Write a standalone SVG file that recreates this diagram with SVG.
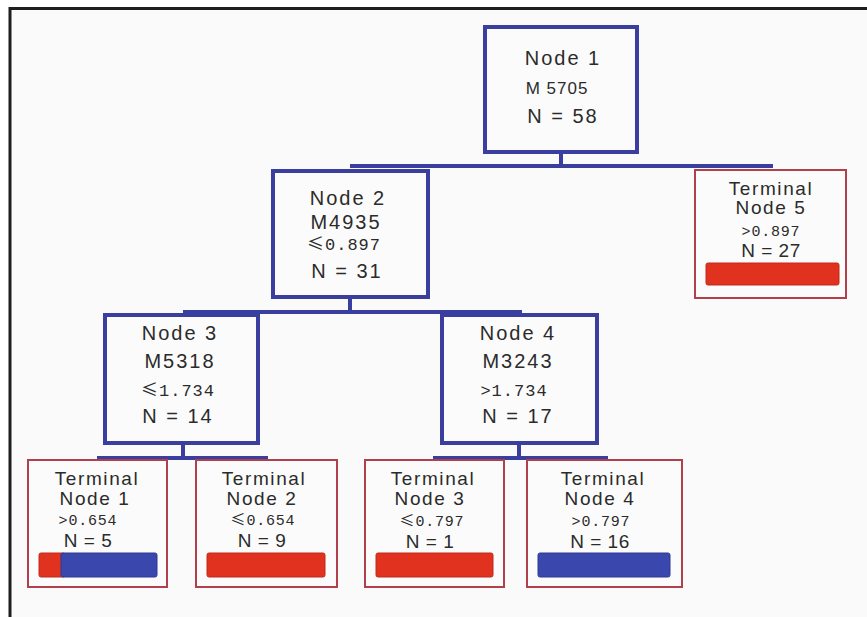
<svg xmlns="http://www.w3.org/2000/svg" width="867" height="617" viewBox="0 0 867 617">
<style>
.bg{fill:#fafafa}
.frame{stroke:#1e1e1e;stroke-width:3;fill:none}
.nb{fill:#fbfbfb;stroke:#3a3f9f;stroke-width:4}
.tb{fill:#fbfbfb;stroke:#b0404c;stroke-width:2}
.conn{stroke:#3a3f9f;stroke-width:4;fill:none}
.t{font-family:"Liberation Sans",Arial,sans-serif;font-size:20px;fill:#2b2b2b;text-anchor:middle;letter-spacing:2px}
.m{font-family:"Liberation Sans",Arial,sans-serif;font-size:17px;fill:#2b2b2b;text-anchor:middle;letter-spacing:1px}
.c{font-family:"Liberation Mono","Noto Sans CJK SC",monospace;font-size:17px;fill:#2b2b2b;text-anchor:middle;letter-spacing:1px}
.ct{font-family:"Liberation Mono","Noto Sans CJK SC",monospace;font-size:15px;fill:#2b2b2b;text-anchor:middle;letter-spacing:0.8px}
.le{font-family:"Noto Sans CJK SC","DejaVu Sans",sans-serif}
.tt{font-family:"Liberation Sans",Arial,sans-serif;font-size:19px;fill:#2b2b2b;text-anchor:middle;letter-spacing:1.6px}
.n{font-family:"Liberation Sans",Arial,sans-serif;font-size:19px;fill:#2b2b2b;text-anchor:middle;letter-spacing:0.5px}
.red{fill:#e0321f;stroke:#c02a1c;stroke-width:1}
.blue{fill:#3a47ad;stroke:#2e3a95;stroke-width:1}
</style>
<rect x="0" y="0" width="867" height="617" fill="#ffffff"/>
<rect class="bg" x="11" y="10" width="856" height="607"/>
<g id="frame">
<path class="frame" d="M10,617 V8.5 H867"/>
</g>
<g id="connectors">
<path class="conn" d="M561,153 V166 M350,166 H773 M350,297 V312 M183,312 H522 M183,443 V458 M97,458 H268 M519,443 V458 M433,458 H608"/>
</g>
<g id="node1">
<rect class="nb" x="485" y="27" width="152" height="125"/>
<text class="t" x="563" y="65">Node 1</text>
<text class="m" x="557" y="94">M 5705</text>
<text class="t" x="563" y="123">N = 58</text>
</g>
<g id="node2">
<rect class="nb" x="273" y="171" width="155" height="126"/>
<text class="t" x="348" y="205">Node 2</text>
<text class="t" x="346" y="229">M4935</text>
<text class="c" x="344" y="250"><tspan class="le">≤</tspan>0.897</text>
<text class="t" x="347" y="278">N = 31</text>
</g>
<g id="node3">
<rect class="nb" x="105" y="315" width="153" height="128"/>
<text class="t" x="180" y="340">Node 3</text>
<text class="t" x="180" y="368">M5318</text>
<text class="c" x="178" y="396"><tspan class="le">≤</tspan>1.734</text>
<text class="t" x="178" y="423">N = 14</text>
</g>
<g id="node4">
<rect class="nb" x="442" y="315" width="155" height="128"/>
<text class="t" x="518" y="340">Node 4</text>
<text class="t" x="518" y="368">M3243</text>
<text class="c" x="514" y="396">&gt;1.734</text>
<text class="t" x="518" y="423">N = 17</text>
</g>
<g id="terminal5">
<rect class="tb" x="695" y="170" width="151" height="128"/>
<text class="tt" x="771" y="195">Terminal</text>
<text class="tt" x="771" y="214">Node 5</text>
<text class="ct" x="771" y="236">&gt;0.897</text>
<text class="n" x="771" y="257">N = 27</text>
<rect class="red" x="706" y="263" width="133" height="22" rx="2"/>
</g>
<g id="terminal1">
<rect class="tb" x="28" y="460" width="139" height="127"/>
<text class="tt" x="97" y="485">Terminal</text>
<text class="tt" x="95" y="505">Node 1</text>
<text class="ct" x="88" y="525">&gt;0.654</text>
<text class="n" x="88" y="547">N = 5</text>
<rect class="red" x="39" y="553" width="26" height="24" rx="2"/>
<rect class="blue" x="61" y="553" width="96" height="24" rx="2"/>
</g>
<g id="terminal2">
<rect class="tb" x="196" y="460" width="141" height="127"/>
<text class="tt" x="264" y="485">Terminal</text>
<text class="tt" x="262" y="505">Node 2</text>
<text class="ct" x="263" y="525"><tspan class="le">≤</tspan>0.654</text>
<text class="n" x="262" y="547">N = 9</text>
<rect class="red" x="207" y="553" width="118" height="24" rx="2"/>
</g>
<g id="terminal3">
<rect class="tb" x="365" y="460" width="139" height="127"/>
<text class="tt" x="433" y="485">Terminal</text>
<text class="tt" x="430" y="505">Node 3</text>
<text class="ct" x="432" y="526"><tspan class="le">≤</tspan>0.797</text>
<text class="n" x="430" y="548">N = 1</text>
<rect class="red" x="376" y="553" width="117" height="24" rx="2"/>
</g>
<g id="terminal4">
<rect class="tb" x="527" y="460" width="155" height="127"/>
<text class="tt" x="603" y="485">Terminal</text>
<text class="tt" x="600" y="505">Node 4</text>
<text class="ct" x="601" y="526">&gt;0.797</text>
<text class="n" x="600" y="548">N = 16</text>
<rect class="blue" x="538" y="553" width="132" height="24" rx="2"/>
</g>
</svg>
